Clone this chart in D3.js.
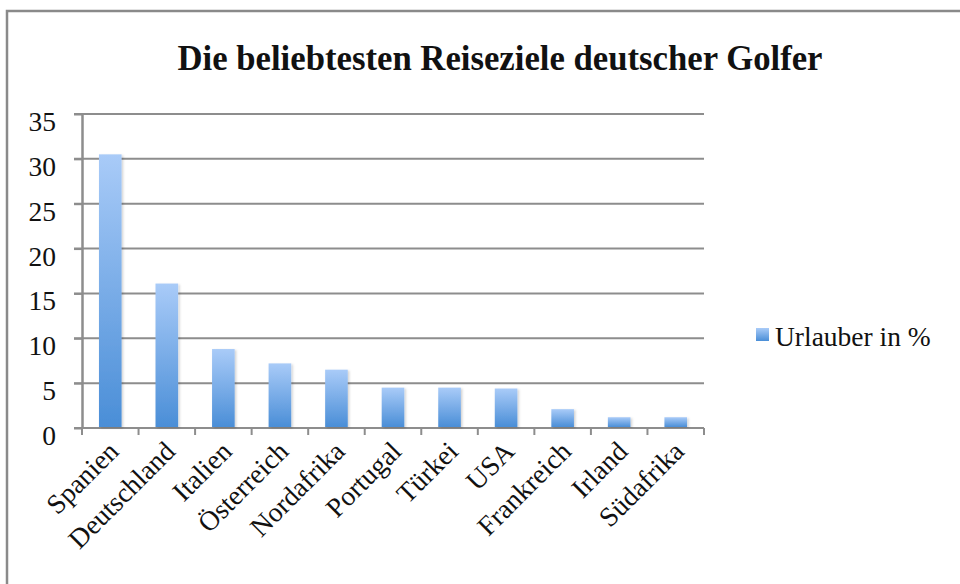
<!DOCTYPE html>
<html>
<head>
<meta charset="utf-8">
<script src="https://cdn.jsdelivr.net/npm/d3@7"></script>
<style>
  body { margin: 0; background: #fff; }
  svg { display: block; font-family: "Liberation Serif", "DejaVu Serif", serif; }
</style>
</head>
<body>
<div id="chart"></div>
<script>
// Data
const categories = ["Spanien", "Deutschland", "Italien", "Österreich", "Nordafrika", "Portugal", "Türkei", "USA", "Frankreich", "Irland", "Südafrika"];
const values = [30.5, 16.1, 8.8, 7.2, 6.5, 4.5, 4.5, 4.4, 2.1, 1.2, 1.2];
const yTicks = [0, 5, 10, 15, 20, 25, 30, 35];
const seriesName = "Urlauber in %";
const title = "Die beliebtesten Reiseziele deutscher Golfer";

const dimensions = {
    width: 960,
    height: 584,
    plotLeft: 82,
    plotRight: 704,
    plotTop: 114,
    plotBottom: 428
}

const gridColor = '#8d8d8d';
const labelSize = 27.5;

const svg = d3.select('#chart')
    .append('svg')
    .attr('width', dimensions.width)
    .attr('height', dimensions.height);

// Gradient for bars (light on top, darker at the bottom)
const defs = svg.append('defs');
const grad = defs.append('linearGradient')
    .attr('id', 'barGrad')
    .attr('x1', 0).attr('y1', 0).attr('x2', 0).attr('y2', 1);
grad.append('stop').attr('offset', '0%').attr('stop-color', '#a9cbf8');
grad.append('stop').attr('offset', '100%').attr('stop-color', '#4a8ed7');

const shadow = defs.append('filter').attr('id', 'shadow')
    .attr('x', '-20%').attr('y', '-5%').attr('width', '150%').attr('height', '115%');
shadow.append('feDropShadow')
    .attr('dx', 1.5).attr('dy', 1).attr('stdDeviation', 1.2)
    .attr('flood-color', '#000').attr('flood-opacity', 0.18);

// Outer chart frame (only top and left edges visible)
svg.append('rect')
    .attr('x', 7)
    .attr('y', 11)
    .attr('width', 1000)
    .attr('height', 700)
    .attr('fill', 'none')
    .attr('stroke', '#8a8a8a')
    .attr('stroke-width', 2.5);

// Title
svg.append('text')
    .attr('x', 500)
    .attr('y', 70)
    .attr('text-anchor', 'middle')
    .attr('font-weight', 'bold')
    .attr('font-size', 36)
    .attr('textLength', 645)
    .attr('lengthAdjust', 'spacingAndGlyphs')
    .attr('fill', '#111')
    .text(title);

// Scales
const xScale = d3.scaleBand()
    .domain(categories)
    .range([dimensions.plotLeft, dimensions.plotRight]);

const yScale = d3.scaleLinear()
    .domain([0, 35])
    .range([dimensions.plotBottom, dimensions.plotTop]);

// Gridlines
svg.append('g')
    .selectAll('line')
    .data(yTicks)
    .join('line')
    .attr('x1', dimensions.plotLeft - 8)
    .attr('x2', dimensions.plotRight)
    .attr('y1', d => yScale(d))
    .attr('y2', d => yScale(d))
    .attr('stroke', gridColor)
    .attr('stroke-width', 2);

// Y axis (labels + vertical line)
const yAxis = d3.axisLeft(yScale)
    .tickValues(yTicks)
    .tickSize(8)
    .tickSizeOuter(0)
    .tickPadding(18);
const yAxisGroup = svg.append('g')
    .attr('transform', `translate(${dimensions.plotLeft}, 0)`)
    .call(yAxis);
yAxisGroup.select('.domain').attr('stroke', gridColor).attr('stroke-width', 2.5);
yAxisGroup.selectAll('.tick line').attr('stroke', gridColor).attr('stroke-width', 2);
yAxisGroup.selectAll('.tick text')
    .attr('font-family', '"Liberation Serif", serif')
    .attr('font-size', labelSize)
    .attr('fill', '#111')
    .attr('dy', '0.6em');

// X axis boundary ticks
const boundaries = categories.map(d => xScale(d)).concat([dimensions.plotRight]);
svg.append('g')
    .selectAll('line')
    .data(boundaries)
    .join('line')
    .attr('x1', d => d)
    .attr('x2', d => d)
    .attr('y1', dimensions.plotBottom)
    .attr('y2', dimensions.plotBottom + 7)
    .attr('stroke', gridColor)
    .attr('stroke-width', 2);

// Bars
const barWidth = xScale.bandwidth() / 2.5;
svg.append('g')
    .selectAll('rect')
    .data(values)
    .join('rect')
    .attr('x', (d, i) => xScale(categories[i]) + (xScale.bandwidth() - barWidth) / 2)
    .attr('y', d => yScale(d))
    .attr('width', barWidth)
    .attr('height', d => yScale(0) - yScale(d) - 1)
    .attr('fill', 'url(#barGrad)')
    .attr('filter', 'url(#shadow)');

// X labels rotated
svg.append('g')
    .selectAll('text')
    .data(categories)
    .join('text')
    .attr('transform', d => `translate(${xScale(d) + xScale.bandwidth() / 2 + 10}, ${dimensions.plotBottom + 25}) rotate(-45)`)
    .attr('text-anchor', 'end')
    .attr('font-size', labelSize)
    .attr('fill', '#111')
    .text(d => d);

// Legend
const legend = svg.append('g')
    .attr('transform', 'translate(756, 328)');
legend.append('rect')
    .attr('width', 13)
    .attr('height', 13)
    .attr('fill', 'url(#barGrad)');
legend.append('text')
    .attr('x', 19)
    .attr('y', 18)
    .attr('font-size', labelSize)
    .attr('fill', '#111')
    .text(seriesName);
</script>
</body>
</html>
